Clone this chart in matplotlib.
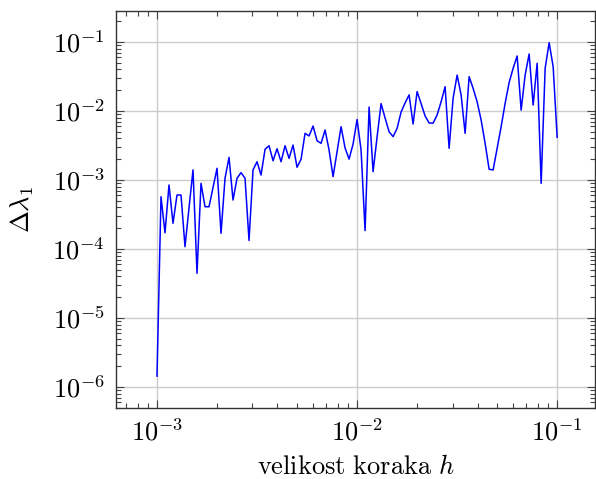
import matplotlib.pyplot as plt
from matplotlib.ticker import LogLocator, FuncFormatter, NullFormatter
import numpy as np

plt.rcParams['mathtext.fontset'] = 'cm'
plt.rcParams['font.family'] = 'serif'

# step sizes h: 50 steps per decade, mantissas for one decade
h_mant = [1.0000, 1.0471, 1.0965, 1.1482, 1.2023, 1.2589, 1.3183, 1.3804, 1.4454, 1.5136,
          1.5849, 1.6596, 1.7378, 1.8197, 1.9055, 1.9953, 2.0893, 2.1878, 2.2909, 2.3988,
          2.5119, 2.6303, 2.7542, 2.8840, 3.0200, 3.1623, 3.3113, 3.4674, 3.6308, 3.8019,
          3.9811, 4.1687, 4.3652, 4.5709, 4.7863, 5.0119, 5.2481, 5.4954, 5.7544, 6.0256,
          6.3096, 6.6069, 6.9183, 7.2444, 7.5858, 7.9433, 8.3176, 8.7096, 9.1201, 9.5499,
          10.000]
h = [m * 1e-3 for m in h_mant] + [m * 1e-2 for m in h_mant[1:]]

# error of the first eigenvalue
dlam = [1.44e-6, 5.73e-4, 1.72e-4, 8.47e-4, 2.36e-4, 6.06e-4, 6.06e-4, 1.08e-4, 3.93e-4, 1.40e-3,
        4.45e-5, 8.95e-4, 4.10e-4, 4.10e-4, 7.78e-4, 1.48e-3, 1.69e-4, 1.06e-3, 2.13e-3, 5.13e-4,
        1.06e-3, 1.28e-3, 1.06e-3, 1.33e-4, 1.40e-3, 1.84e-3, 1.18e-3, 2.79e-3, 3.14e-3, 1.90e-3,
        2.84e-3, 1.84e-3, 3.14e-3, 2.06e-3, 3.21e-3, 1.53e-3, 2.00e-3, 4.75e-3, 4.35e-3, 6.06e-3,
        3.71e-3, 3.40e-3, 5.31e-3, 2.72e-3, 1.12e-3, 2.57e-3, 5.92e-3, 2.91e-3, 2.01e-3, 3.32e-3,
        7.53e-3, 2.72e-3, 1.85e-4, 1.14e-2, 1.32e-3, 4.20e-3, 1.28e-2, 7.92e-3, 5.01e-3, 4.25e-3,
        5.61e-3, 9.68e-3, 1.31e-2, 1.71e-2, 6.48e-3, 1.91e-2, 1.28e-2, 8.47e-3, 6.70e-3, 6.67e-3,
        8.75e-3, 1.36e-2, 2.25e-2, 2.88e-3, 1.53e-2, 3.32e-2, 1.71e-2, 4.75e-3, 3.14e-2, 2.13e-2,
        1.36e-2, 7.41e-3, 3.40e-3, 1.43e-3, 1.40e-3, 2.88e-3, 5.92e-3, 1.29e-2, 2.59e-2, 4.16e-2,
        6.27e-2, 1.03e-2, 3.32e-2, 6.70e-2, 1.22e-2, 4.91e-2, 8.95e-4, 4.16e-2, 9.77e-2, 4.39e-2,
        4.16e-3]

fig = plt.figure(figsize=(5.96, 4.79), dpi=100)
ax = fig.add_axes([0.1946, 0.1482, 0.804, 0.8288])

ax.plot(h, dlam, color='blue', lw=1.1)

ax.set_xscale('log')
ax.set_yscale('log')
ax.set_xlim(10**-3.205, 10**-0.81)
ax.set_ylim(10**-6.304, 10**-0.551)

fmt = FuncFormatter(lambda v, _: r'$10^{%d}$' % round(np.log10(v)))
ax.xaxis.set_major_locator(LogLocator(base=10, numticks=10))
ax.yaxis.set_major_locator(LogLocator(base=10, numticks=10))
ax.xaxis.set_minor_locator(LogLocator(base=10, subs=range(2, 10), numticks=20))
ax.yaxis.set_minor_locator(LogLocator(base=10, subs=range(2, 10), numticks=20))
ax.xaxis.set_major_formatter(fmt)
ax.yaxis.set_major_formatter(fmt)
ax.xaxis.set_minor_formatter(NullFormatter())
ax.yaxis.set_minor_formatter(NullFormatter())

ax.tick_params(which='both', direction='in', top=True, right=True, color='#444444', width=0.8)
ax.tick_params(which='major', length=6, labelsize=19, pad=8)
ax.tick_params(which='minor', length=3.5)
ax.grid(True, which='major', color='#cccccc', lw=1.0)
ax.set_axisbelow(True)
for s in ax.spines.values():
    s.set_linewidth(1.0)
    s.set_color('#333333')

ax.set_xlabel(r'$\mathrm{velikost\ koraka}\ h$', fontsize=19, labelpad=6)
ax.set_ylabel(r'$\Delta\lambda_1$', fontsize=19, labelpad=12)

plt.savefig('out.png', dpi=100)
